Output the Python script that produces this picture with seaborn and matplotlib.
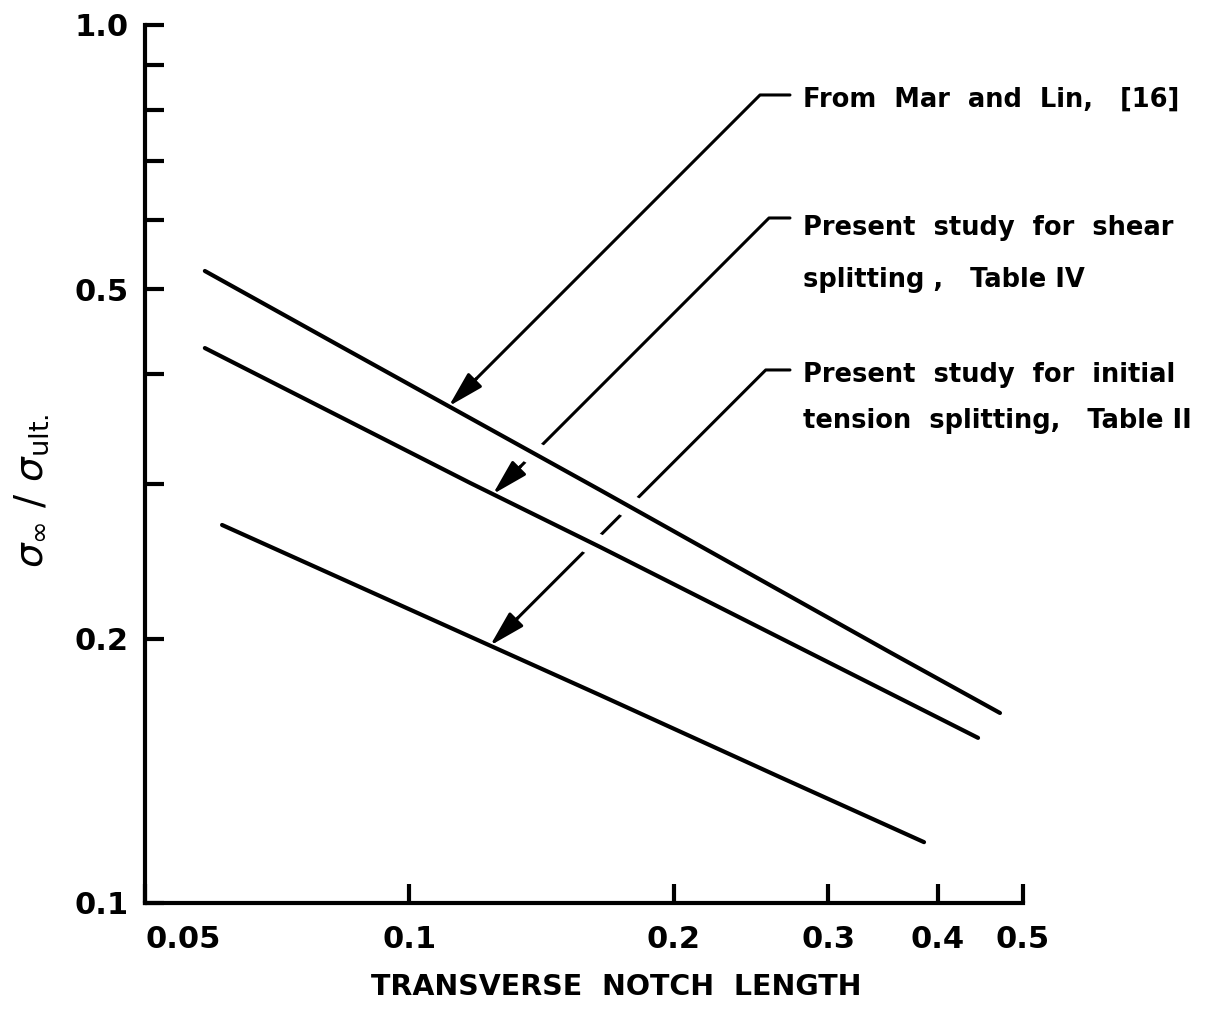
import numpy as np
import pandas as pd
import matplotlib
matplotlib.use("Agg")
import matplotlib.pyplot as plt
import matplotlib.ticker as ticker
import matplotlib.patheffects as pe
import seaborn as sns

# values (log-log)
mar_lin_len = [0.0585, 0.0834, 0.1649, 0.2936, 0.3528, 0.4707]
mar_lin_ratio = [0.5246, 0.4308, 0.2954, 0.2139, 0.1930, 0.1646]

shear_len = [0.0585, 0.1173, 0.1649, 0.2936, 0.4444]
shear_ratio = [0.4286, 0.3009, 0.2544, 0.1901, 0.1542]

tension_len = [0.0612, 0.1649, 0.2644, 0.3857]
tension_ratio = [0.2695, 0.1725, 0.1391, 0.1173]

x_ticks = [0.05, 0.1, 0.2, 0.3, 0.4, 0.5]
x_ticklabels = ["0.05", "0.1", "0.2", "0.3", "0.4", "0.5"]
y_major = [0.1, 0.2, 0.5, 1.0]
y_major_labels = ["0.1", "0.2", "0.5", "1.0"]
y_minor = [0.3, 0.4, 0.6, 0.7, 0.8, 0.9]

# where each arrow lands on its curve (notch length)
arrow_at = [0.1109, 0.1245, 0.1236]

labels = [
    ["From  Mar  and  Lin,   [16]"],
    ["Present  study  for  shear", "splitting ,   Table IV"],
    ["Present  study  for  initial", "tension  splitting,   Table II"],
]

sns.set_style("ticks")
plt.rcParams["font.family"] = ["DejaVu Sans"]
plt.rcParams["mathtext.fontset"] = "dejavusans"
for k in ["text.color", "axes.labelcolor", "xtick.color", "ytick.color", "axes.edgecolor"]:
    plt.rcParams[k] = "black"

fig = plt.figure(figsize=(12.19, 10.22), dpi=100)
ax = fig.add_axes([0.11895, 0.11644, 0.72026, 0.85910])
ax.set_xscale("log")
ax.set_yscale("log")

series = [(mar_lin_len, mar_lin_ratio), (shear_len, shear_ratio), (tension_len, tension_ratio)]
halo = [pe.Stroke(linewidth=17, foreground="white"), pe.Normal()]
for xs, ys in series:
    df = pd.DataFrame({"len": xs, "ratio": ys})
    sns.lineplot(data=df, x="len", y="ratio", ax=ax, color="black", lw=3,
                 sort=False, estimator=None, zorder=3,
                 solid_capstyle="round", path_effects=halo)

ax.set_xlim(0.05, 0.5)
ax.set_ylim(0.1, 1.0)

ax.xaxis.set_major_locator(ticker.FixedLocator(x_ticks))
ax.xaxis.set_major_formatter(ticker.FixedFormatter(x_ticklabels))
ax.xaxis.set_minor_locator(ticker.NullLocator())
ax.yaxis.set_major_locator(ticker.FixedLocator(y_major))
ax.yaxis.set_major_formatter(ticker.FixedFormatter(y_major_labels))
ax.yaxis.set_minor_locator(ticker.FixedLocator(y_minor))
ax.yaxis.set_minor_formatter(ticker.NullFormatter())

ax.tick_params(axis="both", which="both", direction="in", length=14, width=3,
               color="black", labelcolor="black", labelsize=22)
ax.tick_params(axis="x", pad=16)
ax.tick_params(axis="y", pad=12)
for lab in ax.get_xticklabels() + ax.get_yticklabels():
    lab.set_fontweight("bold")
ax.get_xticklabels()[0].set_horizontalalignment("left")

sns.despine(ax=ax)
for s in ["left", "bottom"]:
    ax.spines[s].set_linewidth(3)
    ax.spines[s].set_color("black")

ax.set_xlabel("TRANSVERSE  NOTCH  LENGTH", fontsize=20.5, fontweight="bold", va="top")
ax.xaxis.set_label_coords(0.5365, -0.080)
ax.set_ylabel(r"$\sigma_{\infty}\ /\ \sigma_{\mathrm{ult.}}$", fontsize=28, va="center")
ax.yaxis.set_label_coords(-0.129, 0.47)

# annotation texts (axes fraction positions)
text_x = 0.749
baselines = [[0.9066], [0.7608, 0.7016], [0.5934, 0.541]]
leader_y = [0.9203, 0.7802, 0.6071]
leader_x = 0.7346

for i, (xs, ys) in enumerate(series):
    for line, yb in zip(labels[i], baselines[i]):
        ax.text(text_x, yb, line, transform=ax.transAxes, fontsize=18.5,
                fontweight="bold", va="baseline", ha="left", clip_on=False)
    tip_x = arrow_at[i]
    tip_y = 10 ** np.interp(np.log10(tip_x), np.log10(xs), np.log10(ys))
    # leader line, drawn below the curves so crossings show a gap
    ax.annotate("", xy=(tip_x, tip_y), xycoords="data",
                xytext=(leader_x, leader_y[i]), textcoords="axes fraction",
                arrowprops=dict(arrowstyle="-", lw=2.2, color="black",
                                shrinkA=0, shrinkB=0,
                                connectionstyle="angle,angleA=0,angleB=45,rad=0"),
                zorder=1, annotation_clip=False)
    # arrow head on top
    ax.annotate("", xy=(tip_x, tip_y), xycoords="data",
                xytext=(20, 20), textcoords="offset points",
                arrowprops=dict(arrowstyle="-|>,head_length=1.1,head_width=0.3",
                                mutation_scale=20, lw=2.2, color="black",
                                shrinkA=0, shrinkB=0),
                zorder=5)

fig.savefig("out.png", dpi=100, facecolor="white")
